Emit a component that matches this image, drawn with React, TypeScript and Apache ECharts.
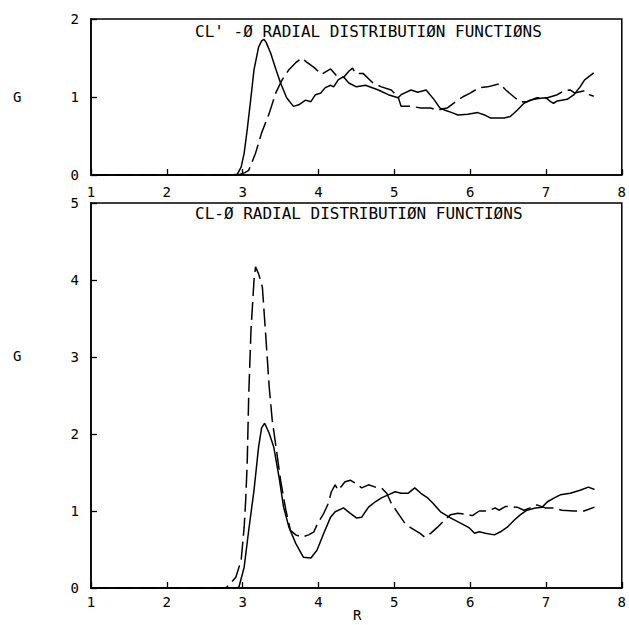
import React, { useEffect, useRef } from "react";
import * as echarts from "echarts";

// ---------- data (R, G) ----------
const xTicks = [1, 2, 3, 4, 5, 6, 7, 8];

const topSolidR = [1.0, 2.85, 2.93, 2.98, 3.02, 3.06, 3.11, 3.15, 3.21, 3.25, 3.28, 3.31, 3.37, 3.44, 3.5, 3.58, 3.67, 3.74, 3.83, 3.9, 3.96, 4.03, 4.09, 4.16, 4.2, 4.26, 4.33, 4.4, 4.5, 4.62, 4.79, 4.92, 5.05, 5.09, 5.22, 5.31, 5.42, 5.53, 5.6, 5.67, 5.76, 5.84, 5.97, 6.1, 6.19, 6.27, 6.45, 6.53, 6.62, 6.71, 6.79, 6.9, 7.0, 7.06, 7.1, 7.15, 7.28, 7.37, 7.45, 7.51, 7.63];
const topSolidG = [0, 0, 0.01, 0.1, 0.28, 0.58, 1.0, 1.35, 1.64, 1.72, 1.74, 1.7, 1.56, 1.35, 1.18, 0.99, 0.88, 0.9, 0.96, 0.94, 1.03, 1.05, 1.12, 1.15, 1.13, 1.22, 1.26, 1.18, 1.13, 1.15, 1.09, 1.03, 0.99, 1.03, 1.09, 1.06, 1.09, 0.96, 0.86, 0.83, 0.8, 0.77, 0.78, 0.8, 0.77, 0.73, 0.73, 0.75, 0.83, 0.92, 0.96, 0.98, 0.99, 0.94, 0.92, 0.95, 0.97, 1.03, 1.13, 1.22, 1.31];

const topDashR = [1.0, 2.9, 2.97, 3.03, 3.08, 3.17, 3.25, 3.35, 3.44, 3.52, 3.61, 3.7, 3.78, 3.84, 3.94, 4.04, 4.16, 4.24, 4.33, 4.4, 4.45, 4.49, 4.59, 4.72, 4.83, 4.96, 5.05, 5.09, 5.22, 5.35, 5.48, 5.57, 5.64, 5.7, 5.81, 5.9, 6.0, 6.12, 6.23, 6.39, 6.47, 6.58, 6.66, 6.75, 6.88, 7.02, 7.15, 7.24, 7.32, 7.38, 7.51, 7.57, 7.63];
const topDashG = [0, 0, 0.01, 0.03, 0.06, 0.28, 0.54, 0.79, 1.06, 1.22, 1.35, 1.44, 1.5, 1.45, 1.38, 1.29, 1.36, 1.27, 1.25, 1.33, 1.37, 1.3, 1.3, 1.18, 1.13, 1.09, 1.0, 0.88, 0.88, 0.86, 0.86, 0.83, 0.85, 0.86, 0.94, 1.0, 1.05, 1.12, 1.13, 1.17, 1.09, 1.0, 0.94, 0.94, 0.99, 0.99, 1.03, 1.08, 1.09, 1.05, 1.08, 1.03, 1.01];

const botSolidR = [1.0, 2.9, 2.95, 3.02, 3.08, 3.15, 3.21, 3.25, 3.29, 3.35, 3.41, 3.48, 3.54, 3.61, 3.7, 3.8, 3.9, 3.98, 4.07, 4.16, 4.22, 4.33, 4.42, 4.5, 4.57, 4.66, 4.75, 4.83, 4.92, 5.01, 5.09, 5.18, 5.27, 5.35, 5.44, 5.51, 5.61, 5.74, 5.88, 5.99, 6.06, 6.12, 6.2, 6.32, 6.4, 6.49, 6.58, 6.66, 6.75, 6.86, 6.95, 7.02, 7.11, 7.19, 7.32, 7.45, 7.56, 7.64];
const botSolidG = [0, 0, 0.01, 0.27, 0.75, 1.27, 1.83, 2.08, 2.14, 2.01, 1.83, 1.44, 1.05, 0.79, 0.58, 0.4, 0.39, 0.49, 0.71, 0.92, 0.99, 1.04, 0.97, 0.91, 0.92, 1.05, 1.12, 1.17, 1.21, 1.25, 1.23, 1.23, 1.3, 1.23, 1.17, 1.1, 0.99, 0.91, 0.84, 0.78, 0.71, 0.73, 0.71, 0.69, 0.73, 0.79, 0.88, 0.95, 1.01, 1.04, 1.05, 1.12, 1.17, 1.21, 1.23, 1.27, 1.31, 1.28];

const botDashR = [1.0, 2.78, 2.82, 2.91, 2.98, 3.02, 3.04, 3.06, 3.08, 3.11, 3.15, 3.17, 3.21, 3.26, 3.31, 3.35, 3.39, 3.44, 3.5, 3.57, 3.63, 3.7, 3.78, 3.87, 3.94, 3.98, 4.07, 4.13, 4.17, 4.22, 4.26, 4.35, 4.42, 4.49, 4.57, 4.66, 4.75, 4.83, 4.9, 4.96, 5.05, 5.14, 5.22, 5.34, 5.4, 5.48, 5.57, 5.66, 5.74, 5.84, 5.94, 6.03, 6.12, 6.23, 6.33, 6.38, 6.47, 6.62, 6.71, 6.79, 6.88, 6.99, 7.11, 7.21, 7.37, 7.5, 7.64];
const botDashG = [0, 0, 0.04, 0.14, 0.36, 0.79, 1.14, 1.62, 2.5, 3.35, 4.0, 4.17, 4.08, 3.91, 3.2, 2.61, 2.18, 1.83, 1.4, 1.01, 0.75, 0.69, 0.66, 0.69, 0.73, 0.82, 0.97, 1.1, 1.25, 1.34, 1.27, 1.38, 1.4, 1.36, 1.3, 1.34, 1.31, 1.3, 1.23, 1.1, 0.97, 0.84, 0.78, 0.71, 0.66, 0.71, 0.79, 0.88, 0.95, 0.97, 0.96, 0.94, 1.0, 1.0, 1.04, 1.01, 1.06, 1.05, 1.01, 1.04, 1.08, 1.04, 1.04, 1.01, 1.0, 1.0, 1.05];

const topTitle = "CL' -Ø RADIAL DISTRIBUTIØN FUNCTIØNS";
const botTitle = "CL-Ø RADIAL DISTRIBUTIØN FUNCTIØNS";

const zip = (r: number[], g: number[]) => r.map((v, i) => [v, g[i]]);

const MONO = "DejaVu Sans Mono";

export default function App() {
  const ref = useRef<HTMLDivElement>(null);
  useEffect(() => {
    if (!ref.current) return;
    const chart = echarts.init(ref.current, null, { renderer: "svg" });
    const axisBase = {
      type: "value" as const,
      splitLine: { show: false },
      axisLine: { show: true, onZero: false, lineStyle: { color: "#000", width: 1.5 } },
      axisTick: { show: true, inside: true, length: 6, lineStyle: { color: "#000", width: 1.3 } },
    };
    const xLabel = (margin: number) => ({
      color: "#000",
      fontFamily: MONO,
      fontSize: 14,
      margin,
      showMinLabel: true,
      showMaxLabel: true,
    });
    const yLabel = {
      color: "#000",
      fontFamily: MONO,
      fontSize: 14,
      margin: 12,
      showMinLabel: true,
      showMaxLabel: true,
    };
    const line = (data: number[][], idx: number, dashed: boolean) => ({
      type: "line" as const,
      xAxisIndex: idx,
      yAxisIndex: idx,
      data,
      showSymbol: false,
      symbol: "none",
      smooth: false,
      silent: true,
      lineStyle: { color: "#000", width: 1.5, type: dashed ? [18, 6] : "solid" },
    });
    chart.setOption({
      animation: false,
      backgroundColor: "#fff",
      title: [
        { text: topTitle, left: 190, top: 18, textStyle: { fontFamily: MONO, fontSize: 16, fontWeight: "normal", color: "#000" } },
        { text: botTitle, left: 190, top: 200, textStyle: { fontFamily: MONO, fontSize: 16, fontWeight: "normal", color: "#000" } },
      ],
      grid: [
        { left: 91, top: 19, width: 534, height: 156, show: true, borderColor: "#000", borderWidth: 1.5, backgroundColor: "transparent" },
        { left: 91, top: 203, width: 534, height: 385, show: true, borderColor: "#000", borderWidth: 1.5, backgroundColor: "transparent" },
      ],
      xAxis: [
        { ...axisBase, gridIndex: 0, min: xTicks[0], max: xTicks[xTicks.length - 1], interval: 1, axisLabel: xLabel(10) },
        { ...axisBase, gridIndex: 1, min: xTicks[0], max: xTicks[xTicks.length - 1], interval: 1, axisLabel: xLabel(7) },
      ],
      yAxis: [
        { ...axisBase, gridIndex: 0, min: 0, max: 2, interval: 1, axisLabel: yLabel },
        { ...axisBase, gridIndex: 1, min: 0, max: 5, interval: 1, axisLabel: yLabel },
      ],
      graphic: [
        { type: "text", left: 13, top: 90, style: { text: "G", font: `14px ${MONO}`, fill: "#000" } },
        { type: "text", left: 13, top: 349, style: { text: "G", font: `14px ${MONO}`, fill: "#000" } },
        { type: "text", left: 353, top: 608, style: { text: "R", font: `14px ${MONO}`, fill: "#000" } },
      ],
      series: [
        line(zip(topSolidR, topSolidG), 0, false),
        line(zip(topDashR, topDashG), 0, true),
        line(zip(botSolidR, botSolidG), 1, false),
        line(zip(botDashR, botDashG), 1, true),
      ],
    });
    return () => chart.dispose();
  }, []);
  return (
    <div
      ref={ref}
      style={{ position: "absolute", left: 0, top: 0, width: 629, height: 625, background: "#fff" }}
    />
  );
}
